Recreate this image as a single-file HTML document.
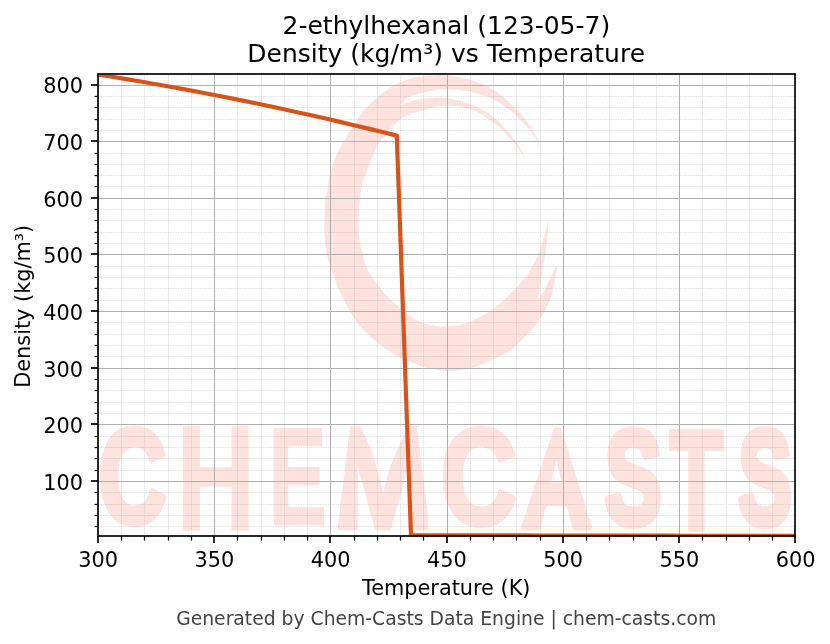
<!DOCTYPE html><html><head><meta charset="utf-8"><title>2-ethylhexanal density vs temperature</title>
<style>html,body{margin:0;padding:0;background:#fff;width:830px;height:644px;overflow:hidden}svg{display:block}text{font-family:'DejaVu Sans', 'Liberation Sans', sans-serif}</style></head><body>
<svg width="830" height="644" viewBox="0 0 830 644">
<rect width="830" height="644" fill="#fff"/>
<defs><clipPath id="ax"><rect x="97.845" y="74.49" width="697.5" height="462"/></clipPath></defs>
<g clip-path="url(#ax)" fill="#fde2de">
<path d="M548.3 219.8C548.3 219.8 548.083 230.383 547.6 236C547.117 241.617 546.3 247.683 545.4 253.5C544.5 259.317 543.1 265.1 542.2 270.9C541.3 276.7 540.783 283.45 540 288.3C539.217 293.15 537.5 300 537.5 300C537.5 300 542.217 294.067 544.3 290.4C546.383 286.733 548.183 281.617 550 278C551.817 274.383 553.967 270.8 555.2 268.7C556.433 266.6 557.4 265.4 557.4 265.4C557.4 265.4 556.283 274.333 555.2 279.6C554.117 284.867 552.717 291.567 550.9 297C549.083 302.433 547.2 307.133 544.3 312.2C541.4 317.267 537.583 322.433 533.5 327.4C529.417 332.367 524.05 337.933 519.8 342C515.55 346.067 512.767 348.767 508 351.8C503.233 354.833 496.817 357.667 491.2 360.2C485.583 362.733 479.917 365.3 474.3 367C468.683 368.7 463.117 369.833 457.5 370.4C451.883 370.967 446.233 370.967 440.6 370.4C434.967 369.833 429.317 368.7 423.7 367C418.083 365.3 411.917 362.383 406.9 360.2C401.883 358.017 398.4 356.767 393.6 353.9C388.8 351.033 383.267 347.15 378.1 343C372.933 338.85 367.25 334.183 362.6 329C357.95 323.817 354.083 318.367 350.2 311.9C346.317 305.433 342.417 297.183 339.3 290.2C336.183 283.217 333.517 275.7 331.5 270C329.483 264.3 328.283 260.667 327.2 256C326.117 251.333 325.483 246.667 325 242C324.517 237.333 324.35 232.983 324.3 228C324.25 223.017 324.483 216.817 324.7 212.1C324.917 207.383 325.133 203.833 325.6 199.7C326.067 195.567 326.783 191.45 327.5 187.3C328.217 183.15 328.867 178.95 329.9 174.8C330.933 170.65 332.283 166.45 333.7 162.4C335.117 158.35 337.15 153.25 338.4 150.5C339.65 147.75 339.8 148.217 341.2 145.9C342.6 143.583 344.933 139.7 346.8 136.6C348.667 133.5 350.533 130.367 352.4 127.3C354.267 124.233 356.1 121.033 358 118.2C359.9 115.367 361.783 112.667 363.8 110.3C365.817 107.933 367.683 106.25 370.1 104C372.517 101.75 375.817 98.867 378.3 96.8C380.783 94.733 382.583 93.4 385 91.6C387.417 89.8 390.3 87.55 392.8 86C395.3 84.45 397.417 83.383 400 82.3C402.583 81.217 405.633 80.333 408.3 79.5C410.967 78.667 412.383 77.95 416 77.3C419.617 76.65 424.8 75.917 430 75.6C435.2 75.283 440.633 74.733 447.2 75.4C453.767 76.067 461.85 77.283 469.4 79.6C476.95 81.917 485.433 85.117 492.5 89.3C499.567 93.483 506.017 99.25 511.8 104.7C517.583 110.15 522.917 116.367 527.2 122C531.483 127.633 535.25 133.667 537.5 138.5C539.75 143.333 540.7 151 540.7 151C540.7 151 538.45 143.583 536.5 140C534.55 136.417 531.75 132.917 529 129.5C526.25 126.083 523.5 122.983 520 119.5C516.5 116.017 512.583 112.033 508 108.6C503.417 105.167 498.933 101.75 492.5 98.9C486.067 96.05 477.317 93.1 469.4 91.5C461.483 89.9 452.6 89.15 445 89.3C437.4 89.45 429.917 91.1 423.8 92.4C417.683 93.7 412.183 94.833 408.3 97.1C404.417 99.367 400.5 106 400.5 106C400.5 106 400.517 104.533 404.4 103.3C408.283 102.067 417.033 99.5 423.8 98.6C430.567 97.7 437.4 97.05 445 97.9C452.6 98.75 461.483 100.633 469.4 103.7C477.317 106.767 486.067 111.633 492.5 116.3C498.933 120.967 503.5 126.567 508 131.7C512.5 136.833 516.617 142.767 519.5 147.1C522.383 151.433 525.3 157.7 525.3 157.7C525.3 157.7 519.717 149.95 516.5 146C513.283 142.05 510 138.083 506 134C502 129.917 498.6 125.667 492.5 121.5C486.4 117.333 477.317 111.65 469.4 109C461.483 106.35 452.6 105.383 445 105.6C437.4 105.817 429.633 108.867 423.8 110.3C417.967 111.733 413.917 112.65 410 114.2C406.083 115.75 403.467 117.35 400.3 119.6C397.133 121.85 393.633 125.1 391 127.7C388.367 130.3 386.367 132.867 384.5 135.2C382.633 137.533 381.2 139.383 379.8 141.7C378.4 144.017 377.333 146.617 376.1 149.1C374.867 151.583 373.65 153.8 372.4 156.6C371.15 159.4 369.85 162.667 368.6 165.9C367.35 169.133 366.067 172.433 364.9 176C363.733 179.567 362.45 183.35 361.6 187.3C360.75 191.25 360.267 195.567 359.8 199.7C359.333 203.833 359.017 207.717 358.8 212.1C358.583 216.483 358.383 221.35 358.5 226C358.617 230.65 358.817 235.25 359.5 240C360.183 244.75 361.25 249.5 362.6 254.5C363.95 259.5 365.017 264.833 367.6 270C370.183 275.167 374.533 280.833 378.1 285.5C381.667 290.167 384.85 293.85 389 298C393.15 302.15 398.5 306.783 403 310.4C407.5 314.017 411.25 317.2 416 319.7C420.75 322.2 426.333 324.267 431.5 325.4C436.667 326.533 441.817 326.683 447 326.5C452.183 326.317 457.417 325.7 462.6 324.3C467.783 322.9 472.933 320.683 478.1 318.1C483.267 315.517 488.95 312.15 493.6 308.8C498.25 305.45 502.267 301.467 506 298C509.733 294.533 512.5 291.8 516 288C519.5 284.2 523.717 279.867 527 275.2C530.283 270.533 533.167 265.433 535.7 260C538.233 254.567 540.317 248.433 542.2 242.6C544.083 236.767 545.983 228.8 547 225C548.017 221.2 548.3 219.8 548.3 219.8Z"/>
<defs><clipPath id="wmA"><polygon points="519,533 555.5,424 559.5,424 594,533"/></clipPath><clipPath id="wmM"><polygon points="337,533 350.5,424 359,424 385,478 409,424 416.5,424 430,533"/></clipPath></defs>
<text style="font-family:'Liberation Sans',Arial,sans-serif;font-weight:bold;font-size:100px;stroke:#fde2de;stroke-width:4.784;stroke-linejoin:round" transform="matrix(0.941 0 0 1.333 98.392 523.028)">C</text>
<text style="font-family:'Liberation Sans',Arial,sans-serif;font-weight:bold;font-size:100px;stroke:#fde2de;stroke-width:0.911;stroke-linejoin:round" transform="matrix(1.097 0 0 1.501 176.161 530.318)">H</text>
<text style="font-family:'Liberation Sans',Arial,sans-serif;font-weight:bold;font-size:100px;stroke:#fde2de;stroke-width:2.328;stroke-linejoin:round" transform="matrix(0.859 0 0 1.371 269.053 523.916)">E</text>
<g clip-path="url(#wmM)"><text style="font-family:'Liberation Sans',Arial,sans-serif;font-weight:bold;font-size:100px;stroke:#fde2de;stroke-width:3.252;stroke-linejoin:round" transform="matrix(1.23 0 0 1.443 331.772 527.651)">M</text></g>
<text style="font-family:'Liberation Sans',Arial,sans-serif;font-weight:bold;font-size:100px;stroke:#fde2de;stroke-width:4.295;stroke-linejoin:round" transform="matrix(1.048 0 0 1.361 440.953 523.762)">C</text>
<g clip-path="url(#wmA)"><text style="font-family:'Liberation Sans',Arial,sans-serif;font-weight:bold;font-size:100px;stroke:#fde2de;stroke-width:6.193;stroke-linejoin:round" transform="matrix(0.969 0 0 1.378 521.587 525.744)">A</text></g>
<text style="font-family:'Liberation Sans',Arial,sans-serif;font-weight:bold;font-size:100px;stroke:#fde2de;stroke-width:5.851;stroke-linejoin:round" transform="matrix(0.855 0 0 1.341 604.838 523.824)">S</text>
<text style="font-family:'Liberation Sans',Arial,sans-serif;font-weight:bold;font-size:100px;stroke:#fde2de;stroke-width:4.619;stroke-linejoin:round" transform="matrix(0.866 0 0 1.4 670.027 527.504)">T</text>
<text style="font-family:'Liberation Sans',Arial,sans-serif;font-weight:bold;font-size:100px;stroke:#fde2de;stroke-width:6.293;stroke-linejoin:round" transform="matrix(0.794 0 0 1.334 738.611 523.567)">S</text>
</g>
<g fill="none" stroke="#b0b0b0" stroke-opacity="0.35" stroke-width="1" stroke-dasharray="1.6 0.9"><path d="M121.5 536.49V74.49"/><path d="M144.5 536.49V74.49"/><path d="M168.5 536.49V74.49"/><path d="M191.5 536.49V74.49"/><path d="M237.5 536.49V74.49"/><path d="M261.5 536.49V74.49"/><path d="M284.5 536.49V74.49"/><path d="M307.5 536.49V74.49"/><path d="M354.5 536.49V74.49"/><path d="M377.5 536.49V74.49"/><path d="M400.5 536.49V74.49"/><path d="M423.5 536.49V74.49"/><path d="M470.5 536.49V74.49"/><path d="M493.5 536.49V74.49"/><path d="M516.5 536.49V74.49"/><path d="M540.5 536.49V74.49"/><path d="M586.5 536.49V74.49"/><path d="M609.5 536.49V74.49"/><path d="M633.5 536.49V74.49"/><path d="M656.5 536.49V74.49"/><path d="M702.5 536.49V74.49"/><path d="M726.5 536.49V74.49"/><path d="M749.5 536.49V74.49"/><path d="M772.5 536.49V74.49"/><path d="M97.845 526.5H795.345"/><path d="M97.845 515.5H795.345"/><path d="M97.845 504.5H795.345"/><path d="M97.845 492.5H795.345"/><path d="M97.845 470.5H795.345"/><path d="M97.845 458.5H795.345"/><path d="M97.845 447.5H795.345"/><path d="M97.845 436.5H795.345"/><path d="M97.845 413.5H795.345"/><path d="M97.845 402.5H795.345"/><path d="M97.845 390.5H795.345"/><path d="M97.845 379.5H795.345"/><path d="M97.845 356.5H795.345"/><path d="M97.845 345.5H795.345"/><path d="M97.845 334.5H795.345"/><path d="M97.845 322.5H795.345"/><path d="M97.845 300.5H795.345"/><path d="M97.845 288.5H795.345"/><path d="M97.845 277.5H795.345"/><path d="M97.845 266.5H795.345"/><path d="M97.845 243.5H795.345"/><path d="M97.845 232.5H795.345"/><path d="M97.845 220.5H795.345"/><path d="M97.845 209.5H795.345"/><path d="M97.845 186.5H795.345"/><path d="M97.845 175.5H795.345"/><path d="M97.845 164.5H795.345"/><path d="M97.845 153.5H795.345"/><path d="M97.845 130.5H795.345"/><path d="M97.845 119.5H795.345"/><path d="M97.845 107.5H795.345"/><path d="M97.845 96.5H795.345"/></g>
<g fill="none" stroke="#b0b0b0" stroke-width="1.04"><path d="M214.5 536.49V74.49"/><path d="M330.5 536.49V74.49"/><path d="M447.5 536.49V74.49"/><path d="M563.5 536.49V74.49"/><path d="M679.5 536.49V74.49"/><path d="M97.845 481.5H795.345"/><path d="M97.845 424.5H795.345"/><path d="M97.845 368.5H795.345"/><path d="M97.845 311.5H795.345"/><path d="M97.845 254.5H795.345"/><path d="M97.845 198.5H795.345"/><path d="M97.845 141.5H795.345"/><path d="M97.845 85.5H795.345"/></g>
<polyline clip-path="url(#ax)" points="97.845,74.49 112.08,76.772 126.314,79.118 140.549,81.526 154.784,83.997 169.018,86.531 183.253,89.128 197.488,91.787 211.723,94.51 225.957,97.296 240.192,100.144 254.427,103.056 268.661,106.03 282.896,109.068 297.131,112.168 311.365,115.331 325.6,118.557 339.835,121.846 354.069,125.198 368.304,128.613 382.539,132.091 396.774,135.631 411.008,535.191 425.243,535.226 439.478,535.26 453.712,535.293 467.947,535.325 482.182,535.357 496.416,535.387 510.651,535.417 524.886,535.446 539.121,535.474 553.355,535.502 567.59,535.529 581.825,535.555 596.059,535.581 610.294,535.606 624.529,535.63 638.763,535.654 652.998,535.678 667.233,535.7 681.467,535.723 695.702,535.745 709.937,535.766 724.172,535.787 738.406,535.807 752.641,535.827 766.876,535.847 781.11,535.866 795.345,535.885" fill="none" stroke="#D95319" stroke-width="4.1667" stroke-linejoin="round" stroke-linecap="square"/>
<rect x="98" y="74" width="697" height="462" fill="none" stroke="#000" stroke-width="1.6667"/>
<g fill="none" stroke="#000" stroke-width="1.6667"><path d="M98 536V543"/><path d="M214 536V543"/><path d="M330 536V543"/><path d="M447 536V543"/><path d="M563 536V543"/><path d="M679 536V543"/><path d="M795 536V543"/><path d="M98 481H91"/><path d="M98 424H91"/><path d="M98 368H91"/><path d="M98 311H91"/><path d="M98 254H91"/><path d="M98 198H91"/><path d="M98 141H91"/><path d="M98 85H91"/></g>
<g fill="none" stroke="#000" stroke-width="1.25"><path d="M121.5 536V540.5"/><path d="M144.5 536V540.5"/><path d="M168.5 536V540.5"/><path d="M191.5 536V540.5"/><path d="M237.5 536V540.5"/><path d="M261.5 536V540.5"/><path d="M284.5 536V540.5"/><path d="M307.5 536V540.5"/><path d="M354.5 536V540.5"/><path d="M377.5 536V540.5"/><path d="M400.5 536V540.5"/><path d="M423.5 536V540.5"/><path d="M470.5 536V540.5"/><path d="M493.5 536V540.5"/><path d="M516.5 536V540.5"/><path d="M540.5 536V540.5"/><path d="M586.5 536V540.5"/><path d="M609.5 536V540.5"/><path d="M633.5 536V540.5"/><path d="M656.5 536V540.5"/><path d="M702.5 536V540.5"/><path d="M726.5 536V540.5"/><path d="M749.5 536V540.5"/><path d="M772.5 536V540.5"/><path d="M98 526.5H94.5"/><path d="M98 515.5H94.5"/><path d="M98 504.5H94.5"/><path d="M98 492.5H94.5"/><path d="M98 470.5H94.5"/><path d="M98 458.5H94.5"/><path d="M98 447.5H94.5"/><path d="M98 436.5H94.5"/><path d="M98 413.5H94.5"/><path d="M98 402.5H94.5"/><path d="M98 390.5H94.5"/><path d="M98 379.5H94.5"/><path d="M98 356.5H94.5"/><path d="M98 345.5H94.5"/><path d="M98 334.5H94.5"/><path d="M98 322.5H94.5"/><path d="M98 300.5H94.5"/><path d="M98 288.5H94.5"/><path d="M98 277.5H94.5"/><path d="M98 266.5H94.5"/><path d="M98 243.5H94.5"/><path d="M98 232.5H94.5"/><path d="M98 220.5H94.5"/><path d="M98 209.5H94.5"/><path d="M98 186.5H94.5"/><path d="M98 175.5H94.5"/><path d="M98 164.5H94.5"/><path d="M98 153.5H94.5"/><path d="M98 130.5H94.5"/><path d="M98 119.5H94.5"/><path d="M98 107.5H94.5"/><path d="M98 96.5H94.5"/></g>
<text x="98.045" y="566.904" font-size="20.833" text-anchor="middle">300</text>
<text x="214.295" y="566.904" font-size="20.833" text-anchor="middle">350</text>
<text x="330.545" y="566.904" font-size="20.833" text-anchor="middle">400</text>
<text x="446.795" y="566.904" font-size="20.833" text-anchor="middle">450</text>
<text x="563.045" y="566.904" font-size="20.833" text-anchor="middle">500</text>
<text x="679.295" y="566.904" font-size="20.833" text-anchor="middle">550</text>
<text x="795.545" y="566.904" font-size="20.833" text-anchor="middle">600</text>
<text x="82.992" y="489.871" font-size="20.833" text-anchor="end">100</text>
<text x="82.992" y="433.242" font-size="20.833" text-anchor="end">200</text>
<text x="82.992" y="376.613" font-size="20.833" text-anchor="end">300</text>
<text x="82.992" y="319.984" font-size="20.833" text-anchor="end">400</text>
<text x="82.992" y="263.356" font-size="20.833" text-anchor="end">500</text>
<text x="82.992" y="206.727" font-size="20.833" text-anchor="end">600</text>
<text x="82.992" y="150.098" font-size="20.833" text-anchor="end">700</text>
<text x="82.992" y="93.469" font-size="20.833" text-anchor="end">800</text>
<text x="446.245" y="595.4" font-size="20.833" text-anchor="middle">Temperature (K)</text>
<text x="29.83" y="306.291" font-size="20.833" text-anchor="middle" transform="rotate(-90 29.83 306.291)">Density (kg/m³)</text>
<text x="446.395" y="33.996" font-size="25" text-anchor="middle">2-ethylhexanal (123-05-7)</text>
<text x="446.195" y="61.991" font-size="25" text-anchor="middle">Density (kg/m³) vs Temperature</text>
<text x="446.195" y="624.74" font-size="18.75" text-anchor="middle" fill="#444444">Generated by Chem-Casts Data Engine | chem-casts.com</text>
</svg></body></html>
